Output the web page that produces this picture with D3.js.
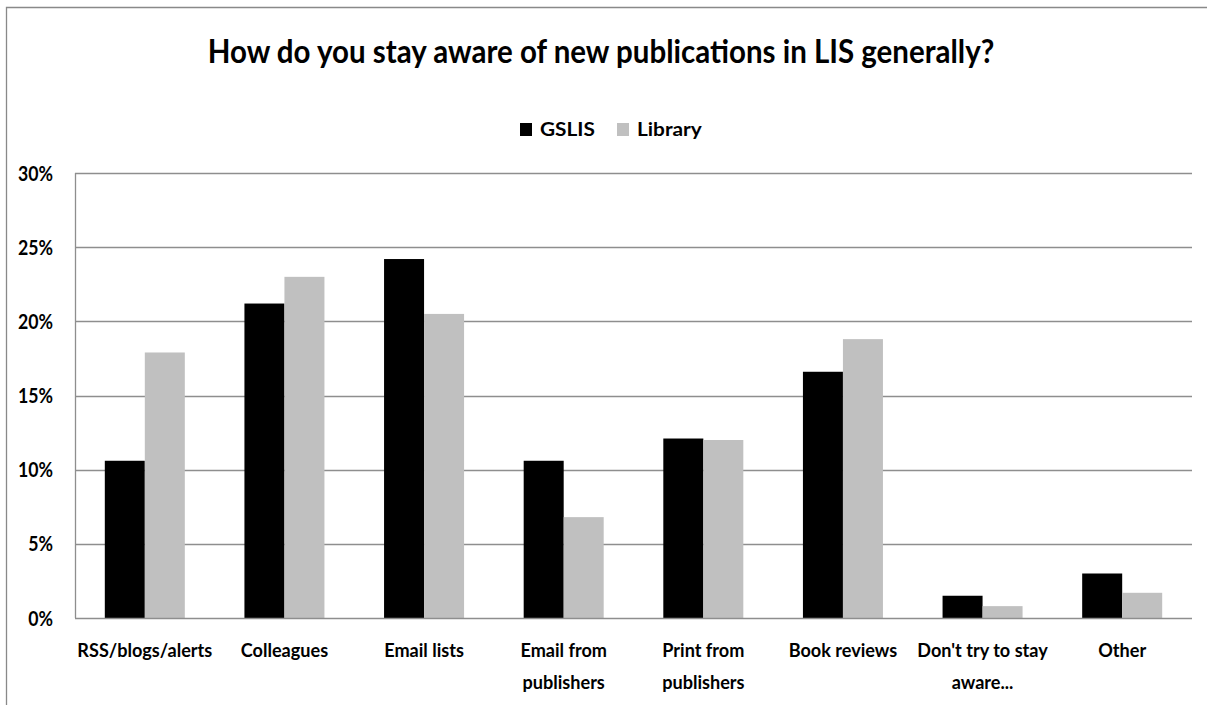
<!DOCTYPE html>
<html><head><meta charset="utf-8">
<script src="https://cdn.jsdelivr.net/npm/d3@7"></script>
<style>body{margin:0;background:#fff}svg{display:block}text{font-family:Lato,"Open Sans",sans-serif;font-weight:bold;fill:#000}</style>
</head><body><svg id="c" width="1207" height="705"></svg>
<script>
const categories = [["RSS/blogs/alerts"],["Colleagues"],["Email lists"],["Email from","publishers"],["Print from","publishers"],["Book reviews"],["Don't try to stay","aware..."],["Other"]];
const seriesNames = ["GSLIS","Library"];
const gslis = [10.6,21.2,24.2,10.6,12.1,16.6,1.5,3.0];
const library = [17.9,23.0,20.5,6.8,12.0,18.8,0.8,1.7];
const yTicks = [0,5,10,15,20,25,30];
const colors = ["#000000","#c0c0c0"];

const svg = d3.select("#c");
const m = {l:75, r:1192, t:173, b:618};
const x = d3.scaleBand().domain(d3.range(categories.length)).range([m.l,m.r]).paddingInner(0).paddingOuter(0);
const bw = x.bandwidth()*0.2865;
const y = d3.scaleLinear().domain([0,30]).range([m.b,m.t]);

function scaleFor(text, fs, target){
  const t = svg.append("text").attr("font-size",fs).text(text);
  const w = t.node().getComputedTextLength(); t.remove();
  return target/w;
}
function squeeze(sel, ax, s){ sel.attr("transform",`translate(${ax},0) scale(${s},1) translate(${-ax},0)`); }

// frame (left + top)
svg.append("path").attr("d","M6.5,705V7.5H1207").attr("fill","none").attr("stroke","#898989").attr("stroke-width",1.3);

// gridlines
svg.append("g").selectAll("line").data(yTicks.filter(d=>d>0)).join("line")
  .attr("x1",m.l).attr("x2",m.r).attr("y1",d=>Math.round(y(d))+0.5).attr("y2",d=>Math.round(y(d))+0.5)
  .attr("stroke","#8e8e8e").attr("stroke-width",1.3);

// bars
const data = [gslis, library];
data.forEach((vals,si)=>{
  svg.append("g").selectAll("rect").data(vals).join("rect")
    .attr("x",(d,i)=>x(i)+x.bandwidth()/2 - bw + si*bw)
    .attr("width",bw)
    .attr("y",d=>y(d)).attr("height",d=>y(0)-y(d))
    .attr("fill",colors[si]);
});

// axes lines
svg.append("line").attr("x1",m.l).attr("x2",m.r).attr("y1",m.b+0.5).attr("y2",m.b+0.5).attr("stroke","#8e8e8e").attr("stroke-width",1.3);
svg.append("line").attr("x1",m.l+0.5).attr("x2",m.l+0.5).attr("y1",m.t).attr("y2",m.b).attr("stroke","#8e8e8e").attr("stroke-width",1.3);

// y labels
const yfs = 21, ys = scaleFor("30%", yfs, 35);
svg.append("g").selectAll("text").data(yTicks).join("text")
  .attr("x",53).attr("y",d=>y(d)).attr("dy","0.36em").attr("text-anchor","end")
  .attr("font-size",yfs).text(d=>d+"%")
  .each(function(){ squeeze(d3.select(this),53,ys); });

// x labels
const xfs = 19.5, xs = scaleFor("RSS/blogs/alerts", xfs, 135);
const xl = svg.append("g").selectAll("text").data(categories).join("text")
  .attr("x",(d,i)=>x(i)+x.bandwidth()/2).attr("y",657).attr("text-anchor","middle").attr("font-size",xfs)
  .each(function(d,i){ squeeze(d3.select(this), x(i)+x.bandwidth()/2, xs); });
xl.selectAll("tspan").data(d=>d).join("tspan")
  .attr("x",function(){return this.parentNode.getAttribute("x");})
  .attr("dy",(d,i)=>i===0?0:32).text(d=>d);

// title
const titleText = "How do you stay aware of new publications in LIS generally?";
const tfs = 33, ts = scaleFor(titleText, tfs, 787);
const title = svg.append("text").attr("x",601).attr("y",63).attr("text-anchor","middle").attr("font-size",tfs).text(titleText);
squeeze(title,601,ts);

// legend
const lfs = 18, ls = scaleFor(seriesNames[0], lfs, 55);
const lg = svg.append("g");
const l1 = lg.append("text").attr("x",540).attr("y",136).attr("font-size",lfs).text(seriesNames[0]); squeeze(l1,540,ls);
const l2 = lg.append("text").attr("x",637).attr("y",136).attr("font-size",lfs).text(seriesNames[1]); squeeze(l2,637,ls);
lg.append("rect").attr("x",520).attr("y",123).attr("width",12).attr("height",13).attr("fill",colors[0]);
lg.append("rect").attr("x",617).attr("y",123).attr("width",12).attr("height",13).attr("fill",colors[1]);
</script></body></html>
